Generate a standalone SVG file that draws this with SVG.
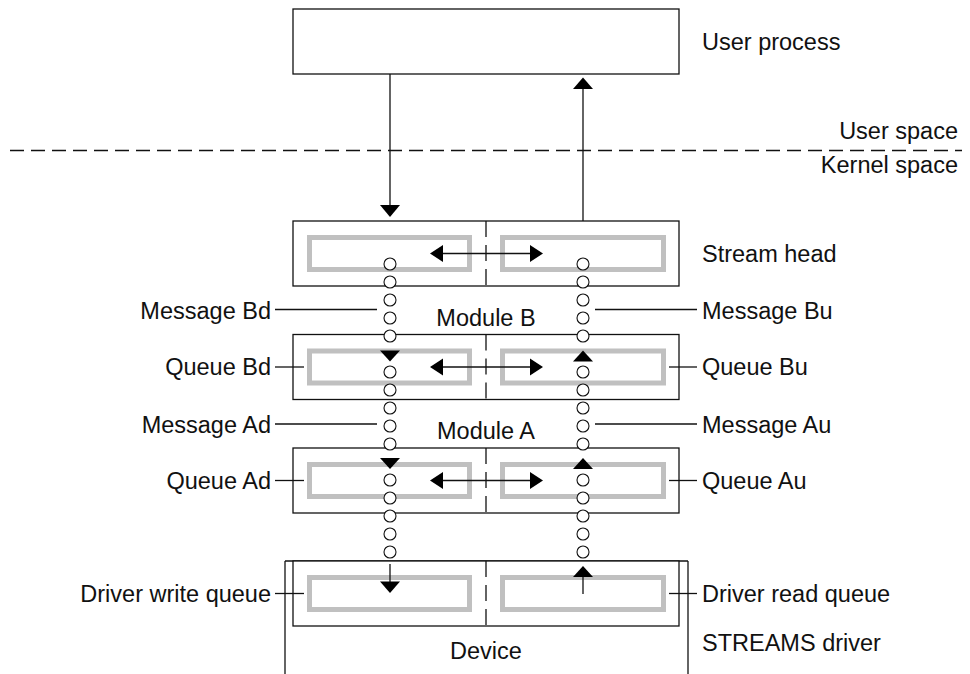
<svg xmlns="http://www.w3.org/2000/svg" width="970" height="674" viewBox="0 0 970 674">
<style>
  text{font-family:"Liberation Sans",Arial,Helvetica,sans-serif;font-size:23.5px;fill:#111}
  .box{fill:#fff;stroke:#111;stroke-width:1.3}
  .q{fill:none;stroke:#c0c0c0;stroke-width:5}
  .div{stroke:#111;stroke-width:1.3;stroke-dasharray:16 8}
  .ln{stroke:#111;stroke-width:1.3;fill:none}
  .hd{fill:#000}
  .c{fill:#fff;stroke:#111;stroke-width:1.1}
  .mid{text-anchor:middle}
  .end{text-anchor:end}
</style>
<defs>
  <g id="circ"><circle class="c" cx="0" cy="0" r="6"/></g>
  <g id="bidi">
    <line class="ln" x1="440" y1="0" x2="533" y2="0"/>
    <polygon class="hd" points="430,0 443,-8.5 443,8.5"/>
    <polygon class="hd" points="543,0 530,-8.5 530,8.5"/>
  </g>
</defs>

<!-- separator -->
<g id="separator">
  <line x1="10" y1="150.5" x2="962" y2="150.5" stroke="#111" stroke-width="1.3" stroke-dasharray="14 7"/>
  <text class="end" x="958" y="139">User space</text>
  <text class="end" x="958" y="172.5">Kernel space</text>
</g>

<g id="user-process">
  <rect class="box" x="293" y="9" width="386" height="65"/>
  <text x="702" y="50">User process</text>
</g>

<g id="stream-head">
  <rect class="box" x="293" y="221" width="386" height="65"/>
  <line class="div" x1="486" y1="221" x2="486" y2="286"/>
  <rect class="q" x="309.5" y="237.5" width="160" height="32"/>
  <rect class="q" x="502.5" y="237.5" width="161" height="32"/>
  <use href="#bidi" transform="translate(0,253.5)"/>
  <text x="702" y="262">Stream head</text>
</g>

<g id="module-b">
  <rect class="box" x="293" y="334.5" width="386" height="65"/>
  <line class="div" x1="486" y1="334.5" x2="486" y2="399.5"/>
  <rect class="q" x="309.5" y="351" width="160" height="32"/>
  <rect class="q" x="502.5" y="351" width="161" height="32"/>
  <use href="#bidi" transform="translate(0,367)"/>
  <text class="mid" x="486" y="326">Module B</text>
</g>

<g id="module-a">
  <rect class="box" x="293" y="448" width="386" height="65"/>
  <line class="div" x1="486" y1="448" x2="486" y2="513"/>
  <rect class="q" x="309.5" y="464.5" width="160" height="32"/>
  <rect class="q" x="502.5" y="464.5" width="161" height="32"/>
  <use href="#bidi" transform="translate(0,480.5)"/>
  <text class="mid" x="486" y="439">Module A</text>
</g>

<g id="streams-driver">
  <line class="ln" x1="285" y1="561" x2="688" y2="561"/>
  <line class="ln" x1="285" y1="561" x2="285" y2="674"/>
  <line class="ln" x1="688" y1="561" x2="688" y2="674"/>
  <rect class="box" x="293" y="561" width="386" height="65"/>
  <line class="div" x1="486" y1="561" x2="486" y2="626"/>
  <rect class="q" x="309.5" y="577.5" width="160" height="32"/>
  <rect class="q" x="502.5" y="577.5" width="161" height="32"/>
  <text class="mid" x="486" y="659">Device</text>
  <text x="702" y="651">STREAMS driver</text>
</g>

<g id="labels">
  <text class="end" x="271" y="319">Message Bd</text>
  <text class="end" x="271" y="375">Queue Bd</text>
  <text class="end" x="271" y="433">Message Ad</text>
  <text class="end" x="271" y="488.5">Queue Ad</text>
  <text class="end" x="271" y="601.5">Driver write queue</text>
  <text x="702" y="319">Message Bu</text>
  <text x="702" y="375">Queue Bu</text>
  <text x="702" y="433">Message Au</text>
  <text x="702" y="488.5">Queue Au</text>
  <text x="702" y="601.5">Driver read queue</text>
</g>

<g id="connectors">
  <!-- leaders -->
  <line class="ln" x1="275" y1="309.5" x2="377" y2="309.5"/>
  <line class="ln" x1="275" y1="367" x2="304" y2="367"/>
  <line class="ln" x1="275" y1="424" x2="377" y2="424"/>
  <line class="ln" x1="275" y1="480.5" x2="304" y2="480.5"/>
  <line class="ln" x1="275" y1="593.5" x2="304" y2="593.5"/>
  <line class="ln" x1="595" y1="309.5" x2="697" y2="309.5"/>
  <line class="ln" x1="669" y1="367" x2="697" y2="367"/>
  <line class="ln" x1="595" y1="424" x2="697" y2="424"/>
  <line class="ln" x1="669" y1="480.5" x2="697" y2="480.5"/>
  <line class="ln" x1="669" y1="593.5" x2="697" y2="593.5"/>

  <!-- user process arrows -->
  <line class="ln" x1="390" y1="74" x2="390" y2="206"/>
  <polygon class="hd" points="380,205 400,205 390,217"/>
  <line class="ln" x1="583" y1="221" x2="583" y2="88"/>
  <polygon class="hd" points="573,89 593,89 583,77.5"/>

  <!-- write side message chain -->
  <g transform="translate(390,0)">
    <use href="#circ" y="264"/><use href="#circ" y="282"/><use href="#circ" y="300"/><use href="#circ" y="318"/><use href="#circ" y="336"/>
    <use href="#circ" y="372"/><use href="#circ" y="390"/><use href="#circ" y="408"/><use href="#circ" y="426"/><use href="#circ" y="444"/>
    <use href="#circ" y="480"/><use href="#circ" y="498"/><use href="#circ" y="516"/><use href="#circ" y="534"/><use href="#circ" y="552"/>
  </g>
  <polygon class="hd" points="380,350.5 400,350.5 390,361.5"/>
  <polygon class="hd" points="380,458 400,458 390,469"/>
  <line class="ln" x1="390" y1="564" x2="390" y2="583"/>
  <polygon class="hd" points="380,581.5 400,581.5 390,593"/>

  <!-- read side message chain -->
  <g transform="translate(583,0)">
    <use href="#circ" y="264"/><use href="#circ" y="282"/><use href="#circ" y="300"/><use href="#circ" y="318"/><use href="#circ" y="336"/>
    <use href="#circ" y="372"/><use href="#circ" y="390"/><use href="#circ" y="408"/><use href="#circ" y="426"/><use href="#circ" y="444"/>
    <use href="#circ" y="480"/><use href="#circ" y="498"/><use href="#circ" y="516"/><use href="#circ" y="534"/><use href="#circ" y="552"/>
  </g>
  <polygon class="hd" points="573,361.5 593,361.5 583,350.5"/>
  <polygon class="hd" points="573,469 593,469 583,458"/>
  <line class="ln" x1="583" y1="576" x2="583" y2="594"/>
  <polygon class="hd" points="573,577 593,577 583,566"/>
</g>
</svg>
